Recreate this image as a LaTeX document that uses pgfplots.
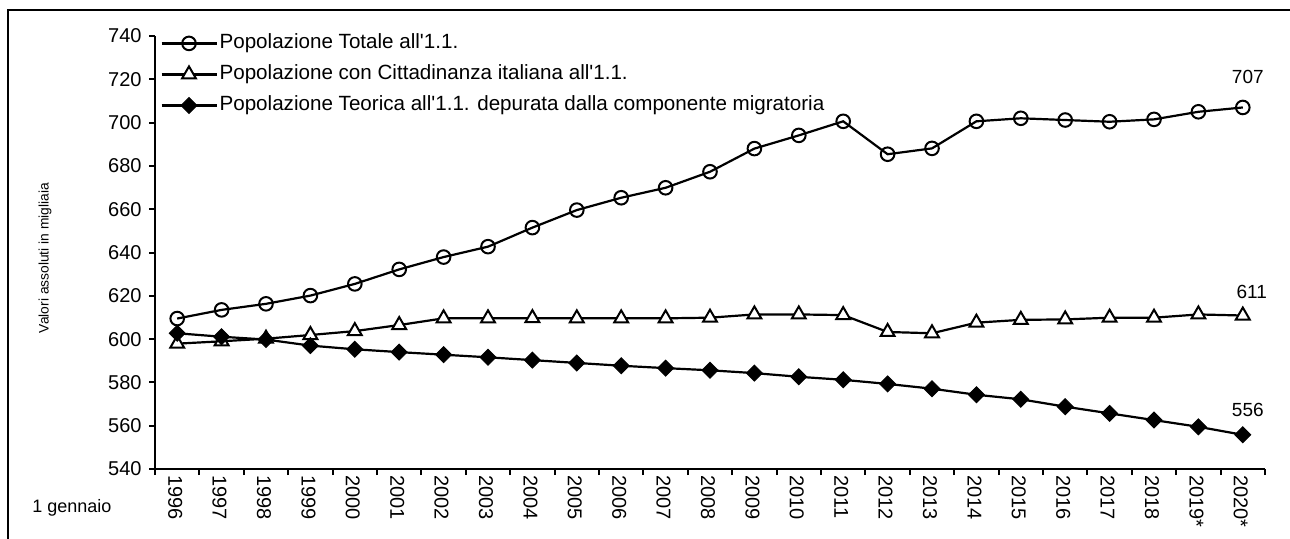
\documentclass[border=0pt]{standalone}
\usepackage{pgfplots}
\pgfplotsset{compat=1.18}
\usepackage{pgfplotstable}
\usepackage{fontspec}
\setmainfont{Liberation Sans}
\newcommand\q{\textquotesingle}

\pgfplotstableread{
idx tot cit teo
0  609.5 597.9 602.7
1  613.5 599.0 601.1
2  616.3 600.2 599.8
3  620.1 601.9 597.0
4  625.5 603.7 595.3
5  632.2 606.5 594.0
6  637.9 609.6 592.8
7  642.7 609.6 591.6
8  651.5 609.7 590.3
9  659.6 609.6 589.0
10 665.3 609.6 587.7
11 669.9 609.6 586.6
12 677.3 609.9 585.6
13 688.0 611.4 584.3
14 694.1 611.4 582.6
15 700.6 611.1 581.2
16 685.4 603.3 579.3
17 688.1 602.7 577.1
18 700.6 607.6 574.3
19 702.0 608.9 572.2
20 701.2 609.1 568.8
21 700.4 609.9 565.7
22 701.5 609.9 562.6
23 705.0 611.4 559.5
24 707.0 610.9 555.8
}\data

\begin{document}
\begin{tikzpicture}
\path[use as bounding box] (0,0) rectangle (645pt,-269pt);
\draw[line width=1pt] (3.75pt,-270pt) -- (3.75pt,-5pt) -- (646pt,-5pt);
\node[rotate=90, font=\fontsize{6.9pt}{9pt}\selectfont] at (22.5pt,-129pt) {Valori assoluti in migliaia};
\node[font=\fontsize{9pt}{11pt}\selectfont] at (36pt,-254pt) {1 gennaio};
\begin{axis}[
  at={(77.5pt,-234.5pt)}, anchor=south west,
  scale only axis, width=555pt, height=216.5pt,
  xmin=-0.5, xmax=24.5, ymin=540, ymax=740,
  axis x line=bottom, axis y line=left,
  axis line style={-, line width=1pt},
  tick align=outside,
  major tick length=3pt,
  tick style={line width=1pt, black},
  ytick={540,560,...,740},
  xtick={-0.5,0.5,...,24.5},
  x tick label as interval,
  xticklabels={1996,1997,1998,1999,2000,2001,2002,2003,2004,2005,2006,2007,2008,2009,2010,2011,2012,2013,2014,2015,2016,2017,2018,2019*,2020*},
  xticklabel style={rotate=-90, anchor=west, inner sep=0pt, xshift=0pt, yshift=-1pt},
  yticklabel style={inner sep=0pt, xshift=-3.5pt},
  tick label style={font=\fontsize{10pt}{12pt}\selectfont},
  /pgf/number format/assume math mode=true,
  clip=false,
  legend style={at={(0,1)}, anchor=north west, draw=none, fill=none,
    inner xsep=0pt, inner ysep=0pt, row sep=6pt, xshift=2.5pt, yshift=1.25pt,
    font=\fontsize{10.3pt}{12pt}\selectfont,
    nodes={inner ysep=0pt, inner xsep=1pt, text height=7.5pt, text depth=2pt}},
  legend cell align=left,
  legend image code/.code={\draw[mark repeat=2,mark phase=2,#1] plot coordinates {(0pt,0pt) (13.75pt,0pt) (27.5pt,0pt)};},
]
\addplot[black, line width=1.1pt, mark=o, mark size=3.4pt, mark options={fill=white, line width=1pt}] table[x=idx,y=tot] {\data};
\addlegendentry{Popolazione Totale all\q 1.1.}
\addplot[black, line width=1.1pt, mark=triangle*, mark size=4pt, mark options={fill=white, line width=1pt}] table[x=idx,y=cit] {\data};
\addlegendentry{Popolazione con Cittadinanza italiana all\q 1.1.}
\addplot[black, line width=1.1pt, mark=square*, mark size=2.8pt, mark options={fill=black, rotate=45, line width=0.5pt}] table[x=idx,y=teo] {\data};
\addlegendentry{Popolazione Teorica all\q 1.1. depurata dalla componente migratoria}
\node[font=\fontsize{9.5pt}{11pt}\selectfont] at (axis cs:24,707) [xshift=2.5pt, yshift=15.5pt] {707};
\node[font=\fontsize{9.5pt}{11pt}\selectfont] at (axis cs:24,610.9) [xshift=4.5pt, yshift=12pt] {611};
\node[font=\fontsize{9.5pt}{11pt}\selectfont] at (axis cs:24,555.8) [xshift=2.5pt, yshift=12.5pt] {556};
\end{axis}
\end{tikzpicture}
\end{document}
